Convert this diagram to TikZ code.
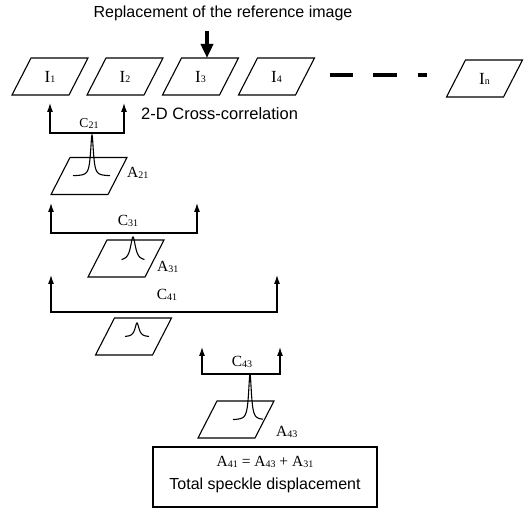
\documentclass[tikz,border=0pt]{standalone}
\usepackage{fontspec}
\setmainfont{Liberation Serif}
\newfontfamily\sansf{Liberation Sans}
\usetikzlibrary{arrows.meta}
\newcommand{\lsub}[1]{\raisebox{-0.8pt}{\fontsize{10}{10}\selectfont #1}}
\begin{document}
\begin{tikzpicture}[x=1pt,y=-1pt,
  pline/.style={line width=1.1pt, line join=miter},
  para/.pic={\draw[pline] (-38,18.5) -- (19,18.5) -- (38,-18.5) -- (-19,-18.5) -- cycle;},
  imglabel/.style={font=\fontsize{17}{18}\selectfont, inner sep=0pt},
  clabel/.style={font=\fontsize{15.5}{16}\selectfont, inner sep=0pt},
  conn/.style={line width=1.1pt, {Latex[length=9pt,width=6pt]}-{Latex[length=9pt,width=6pt]}},
  peak/.style={line width=1.1pt},
  sanstext/.style={font=\sansf\fontsize{16}{18}\selectfont, inner sep=0pt},
  bigarrow/.style={line width=3.8pt, -{Triangle[length=14pt,width=12pt]}},
  dashseg/.style={line width=3.8pt}
]
\useasboundingbox (0,0) rectangle (525,510);

% title and big arrow
\node[sanstext] (title) at (223,13) {Replacement of the reference image};
\coordinate (bigstart) at (207,31);
\coordinate (I3top) at (207,58);
\draw[bigarrow] (bigstart) -- (I3top);

% image row
\pic at (50,76.5) {para};
\node[imglabel] (I1) at (50,77) {I\lsub{1}};
\pic at (125,76.5) {para};
\node[imglabel] (I2) at (125,77) {I\lsub{2}};
\pic at (200.5,76.5) {para};
\node[imglabel] (I3) at (200.5,77) {I\lsub{3}};
\pic at (276.5,76.5) {para};
\node[imglabel] (I4) at (276.5,77) {I\lsub{4}};
\pic at (484.5,78.5) {para};
\node[imglabel] (In) at (484.5,79) {I\lsub{n}};

% dashes
\coordinate (d1a) at (330,75); \coordinate (d1b) at (353,75);
\coordinate (d2a) at (373,75); \coordinate (d2b) at (397,75);
\coordinate (d3a) at (418,75); \coordinate (d3b) at (427,75);
\draw[dashseg] (d1a) -- (d1b);
\draw[dashseg] (d2a) -- (d2b);
\draw[dashseg] (d3a) -- (d3b);

% C21
\coordinate (c21tl) at (50,103); \coordinate (c21bl) at (50,133);
\coordinate (c21br) at (124,133); \coordinate (c21tr) at (124,103);
\draw[conn] (c21tl) -- (c21bl) -- (c21br) -- (c21tr);
\node[clabel, font=\fontsize{13.5}{14}\selectfont] (C21) at (89,123.5) {C\lsub{21}};
\node[sanstext, font=\sansf\fontsize{16.5}{18}\selectfont, anchor=west] (xc) at (141,114) {2-D Cross-correlation};

% A21
\pic at (89,176) {para};
\draw[peak] plot[domain=-19:18, samples=120, smooth] ({92+\x},{176-41/(1+(\x/1.7)^2)});
\node[clabel, anchor=west] (A21) at (127,173) {A\lsub{21}};

% C31
\coordinate (c31tl) at (51,203); \coordinate (c31bl) at (51,233);
\coordinate (c31br) at (197,233); \coordinate (c31tr) at (197,203);
\draw[conn] (c31tl) -- (c31bl) -- (c31br) -- (c31tr);
\node[clabel] (C31) at (128,221) {C\lsub{31}};

% A31
\pic at (126,258.5) {para};
\draw[peak] plot[domain=-11.5:11.5, samples=120, smooth] ({133+\x},{261-24/(1+(\x/3)^2)});
\node[clabel, anchor=west] (A31) at (157,267) {A\lsub{31}};

% C41
\coordinate (c41tl) at (51,275); \coordinate (c41bl) at (51,312);
\coordinate (c41br) at (277,312); \coordinate (c41tr) at (277,275);
\draw[conn] (c41tl) -- (c41bl) -- (c41br) -- (c41tr);
\node[clabel] (C41) at (167,295) {C\lsub{41}};

% A41
\pic at (133.5,336.5) {para};
\draw[peak] plot[domain=-12:12, samples=120, smooth] ({137+\x},{337-14/(1+(\x/2.5)^2)});

% C43
\coordinate (c43tl) at (202,347); \coordinate (c43bl) at (202,374);
\coordinate (c43br) at (280,374); \coordinate (c43tr) at (280,347);
\draw[conn] (c43tl) -- (c43bl) -- (c43br) -- (c43tr);
\node[clabel] (C43) at (242,362) {C\lsub{43}};

% A43
\pic at (236,419.5) {para};
\draw[peak] plot[domain=-17:13, samples=120, smooth] ({250+\x},{420-46/(1+(\x/1.7)^2)});
\node[clabel, anchor=west] (A43) at (276,432) {A\lsub{43}};

% result box
\node[draw, line width=1.1pt, minimum width=224pt, minimum height=60pt, inner sep=0pt] (box) at (265,477) {};
\node[clabel] (eq) at (265,462) {A\lsub{41} = A\lsub{43} + A\lsub{31}};
\node[sanstext] (tot) at (265,485) {Total speckle displacement};
\end{tikzpicture}
\end{document}
